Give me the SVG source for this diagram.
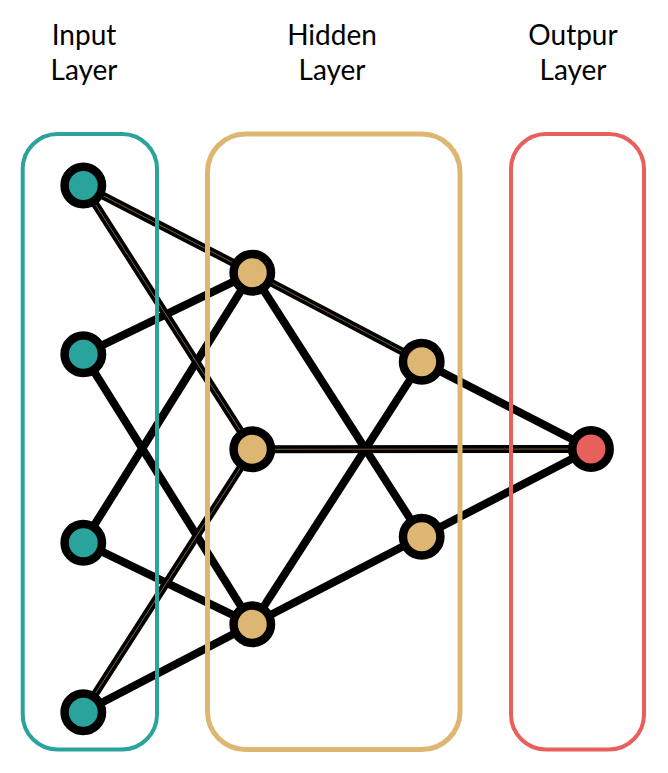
<svg xmlns="http://www.w3.org/2000/svg" width="668" height="773" viewBox="0 0 668 773">
<style>
.lbl{font-family:Lato,"Noto Sans","DejaVu Sans",sans-serif;font-size:28px;font-weight:400;fill:#000;text-anchor:middle}
.e{stroke:#000;stroke-width:8;stroke-linecap:round}
.c{stroke:#7a6234;stroke-width:1}
.box{fill:none}
.n{stroke:#000;stroke-width:8.5}
.in{fill:#2aa39c}.hd{fill:#ddb771}.out{fill:#e8605b}
</style>
<rect width="668" height="773" fill="#fff"/>
<g id="labels">
<text class="lbl" x="84" y="45">Input</text>
<text class="lbl" x="84" y="80">Layer</text>
<text class="lbl" x="332" y="45">Hidden</text>
<text class="lbl" x="332" y="80">Layer</text>
<text class="lbl" x="573" y="45">Outpur</text>
<text class="lbl" x="573" y="80">Layer</text>
</g>
<g id="connectors">
<line class="e" x1="83.3" y1="185.5" x2="252.3" y2="272.7"/>
<line class="e" x1="83.3" y1="185.5" x2="252.3" y2="449.3"/>
<line class="e" x1="83.3" y1="354.3" x2="252.3" y2="272.7"/>
<line class="e" x1="83.3" y1="354.3" x2="252.3" y2="624.3"/>
<line class="e" x1="83.3" y1="542.7" x2="252.3" y2="272.7"/>
<line class="e" x1="83.3" y1="542.7" x2="252.3" y2="624.3"/>
<line class="e" x1="83.3" y1="712.3" x2="252.3" y2="449.3"/>
<line class="e" x1="83.3" y1="712.3" x2="252.3" y2="624.3"/>
<line class="e" x1="252.3" y1="272.7" x2="421.7" y2="361.7"/>
<line class="e" x1="252.3" y1="272.7" x2="421.7" y2="536.7"/>
<line class="e" x1="252.3" y1="449.3" x2="591" y2="449"/>
<line class="e" x1="252.3" y1="624.3" x2="421.7" y2="361.7"/>
<line class="e" x1="252.3" y1="624.3" x2="421.7" y2="536.7"/>
<line class="e" x1="421.7" y1="361.7" x2="591" y2="449"/>
<line class="e" x1="421.7" y1="536.7" x2="591" y2="449"/>
<line class="c" x1="83.3" y1="185.5" x2="252.3" y2="272.7"/>
<line class="c" x1="83.3" y1="185.5" x2="252.3" y2="449.3"/>
<line class="c" x1="83.3" y1="712.3" x2="252.3" y2="449.3"/>
<line class="c" x1="252.3" y1="272.7" x2="421.7" y2="361.7"/>
<line class="c" x1="252.3" y1="449.3" x2="591" y2="449"/>
</g>
<g id="boxes">
<rect id="input-layer" class="box" x="22.7" y="134" width="134.3" height="615.5" rx="35" stroke="#2aa39c" stroke-width="4"/>
<rect id="hidden-layer" class="box" x="207.5" y="134" width="252.5" height="615.5" rx="38" stroke="#ddb771" stroke-width="5"/>
<rect id="output-layer" class="box" x="511" y="134" width="133" height="615.5" rx="35" stroke="#e8605b" stroke-width="4"/>
</g>
<g id="i1"><circle class="n in" cx="83.3" cy="185.5" r="18.7"/></g>
<g id="i2"><circle class="n in" cx="83.3" cy="354.3" r="18.7"/></g>
<g id="i3"><circle class="n in" cx="83.3" cy="542.7" r="18.7"/></g>
<g id="i4"><circle class="n in" cx="83.3" cy="712.3" r="18.7"/></g>
<g id="h1"><circle class="n hd" cx="252.3" cy="272.7" r="18.7"/></g>
<g id="h2"><circle class="n hd" cx="252.3" cy="449.3" r="18.7"/></g>
<g id="h3"><circle class="n hd" cx="252.3" cy="624.3" r="18.7"/></g>
<g id="j1"><circle class="n hd" cx="421.7" cy="361.7" r="18.7"/></g>
<g id="j2"><circle class="n hd" cx="421.7" cy="536.7" r="18.7"/></g>
<g id="o1"><circle class="n out" cx="591" cy="449" r="18.7"/></g>
</svg>
